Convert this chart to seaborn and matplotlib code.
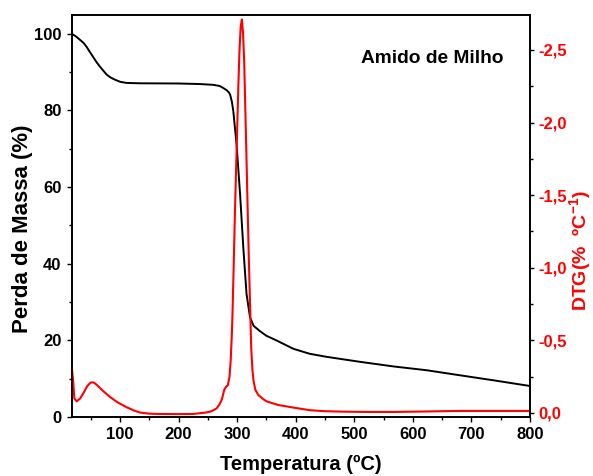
import matplotlib
matplotlib.use("Agg")
import matplotlib.pyplot as plt
import matplotlib.ticker as mticker
import seaborn as sns
import numpy as np

# ---- data ----
tga_temp = [18, 25, 32, 38, 43, 48, 54, 60, 66, 72, 77, 83, 89, 100, 111, 134, 200, 237,
            259, 270, 276, 282, 286, 288, 291, 293.5, 299, 305, 310.5, 316, 322, 328, 339,
            350, 367, 396, 424, 453, 510, 567, 624, 680, 737, 783, 800]
tga_mass = [100.0, 99.3, 98.4, 97.6, 96.6, 95.4, 94.0, 92.6, 91.4, 90.3, 89.4, 88.7, 88.2,
            87.5, 87.2, 87.1, 87.05, 86.9, 86.7, 86.4, 85.9, 85.3, 84.7, 84.1, 82.3, 79.7,
            71.1, 58.1, 44.2, 32.1, 26.0, 23.8, 22.4, 21.2, 20.0, 17.8, 16.5, 15.7, 14.4,
            13.2, 12.2, 10.9, 9.6, 8.5, 8.1]

dtg_temp = [18, 20, 22, 26, 32, 38, 44, 50, 55, 60, 70, 83, 95, 111, 125, 134, 150, 168,
            200, 225, 245, 254, 260, 265, 270, 274, 278, 281, 284, 287, 289, 291, 292,
            294, 296, 298, 300, 302, 304, 306, 308, 310, 312, 314, 316, 318, 320, 322,
            324, 326, 328, 331, 336, 343, 350, 370, 396, 424, 450, 481, 520, 567, 620,
            680, 740, 800]
dtg_vals = [-0.30, -0.22, -0.10, -0.08, -0.10, -0.14, -0.185, -0.21, -0.21, -0.195,
            -0.155, -0.11, -0.075, -0.04, -0.015, -0.003, 0.005, 0.007, 0.008, 0.007,
            -0.002, -0.009, -0.02, -0.032, -0.06, -0.095, -0.16, -0.18, -0.19, -0.25,
            -0.365, -0.55, -0.68, -1.0, -1.35, -1.65, -1.95, -2.25, -2.5, -2.66, -2.71,
            -2.62, -2.42, -2.08, -1.74, -1.39, -1.05, -0.75, -0.45, -0.30, -0.22, -0.16,
            -0.124, -0.10, -0.08, -0.055, -0.037, -0.019, -0.012, -0.009, -0.007, -0.007,
            -0.010, -0.014, -0.014, -0.014]

x_ticks = [100, 200, 300, 400, 500, 600, 700, 800]
left_ticks = [0, 20, 40, 60, 80, 100]
right_ticks = [0.0, -0.5, -1.0, -1.5, -2.0, -2.5]

# ---- style ----
sns.set_style("ticks")
plt.rcParams['font.family'] = ['Liberation Sans', 'DejaVu Sans']
plt.rcParams['font.weight'] = 'bold'
plt.rcParams['text.color'] = 'black'
plt.rcParams['axes.labelcolor'] = 'black'
plt.rcParams['xtick.color'] = 'black'
plt.rcParams['ytick.color'] = 'black'
plt.rcParams['axes.edgecolor'] = 'black'
plt.rcParams['mathtext.fontset'] = 'custom'
plt.rcParams['mathtext.rm'] = 'Liberation Sans:bold'
plt.rcParams['mathtext.bf'] = 'Liberation Sans:bold'
plt.rcParams['mathtext.default'] = 'bf'

fig = plt.figure(figsize=(5.93, 4.76), dpi=100)
ax = fig.add_axes([0.1214, 0.1239, 0.7724, 0.8452])
ax2 = ax.twinx()

sns.lineplot(x=tga_temp, y=tga_mass, ax=ax, color='black', linewidth=1.4,
             estimator=None, sort=False)
sns.lineplot(x=dtg_temp, y=dtg_vals, ax=ax2, color='#ff0000', linewidth=1.5,
             estimator=None, sort=False)

ax.set_xlim(18, 800)
ax.set_ylim(0, 105)
ax2.set_ylim(0.028, -2.743)

ax.set_xticks(x_ticks)
ax.xaxis.set_minor_locator(mticker.MultipleLocator(50))
ax.set_yticks(left_ticks)
ax.yaxis.set_minor_locator(mticker.MultipleLocator(10))
ax2.set_yticks(right_ticks)
ax2.yaxis.set_minor_locator(mticker.MultipleLocator(0.25))
ax2.yaxis.set_major_formatter(mticker.FuncFormatter(
    lambda v, p: ("%.1f" % (0.0 if abs(v) < 1e-9 else v)).replace('.', ',')))

for a in (ax, ax2):
    for s in a.spines.values():
        s.set_linewidth(1.2)
        s.set_color('black')

ax.tick_params(axis='both', which='major', direction='out', length=3.5, width=1.0,
               labelsize=12, pad=4, colors='black')
ax.tick_params(axis='both', which='minor', direction='out', length=2.5, width=1.0,
               colors='black')
ax2.tick_params(axis='y', which='major', direction='out', length=3, width=1.0,
                labelsize=12, pad=3, labelcolor='#ff0000', color='black')
ax2.tick_params(axis='y', which='minor', direction='out', length=2.5, width=1.0,
                color='black')

for lab in ax.get_xticklabels() + ax.get_yticklabels() + ax2.get_yticklabels():
    lab.set_fontweight('bold')

ax.set_xlabel('Temperatura (ºC)', fontsize=14.5, fontweight='bold', labelpad=9,
              color='black')
ax.set_ylabel('Perda de Massa (%)', fontsize=16, fontweight='bold', color='black')
ax.yaxis.set_label_coords(-0.085, 0.467)
ax2.set_ylabel('DTG(%  ºC$^{-1}$)', fontsize=14, fontweight='bold', color='#ff0000')
ax2.yaxis.label.set_verticalalignment('center')
ax2.yaxis.label.set_rotation_mode('default')
ax2.yaxis.set_label_coords(1.110, 0.413)

ax.text(0.630, 0.892, 'Amido de Milho', transform=ax.transAxes, fontsize=13.8,
        fontweight='bold', ha='left', va='center', color='black')

fig.savefig('out.png', dpi=100)
